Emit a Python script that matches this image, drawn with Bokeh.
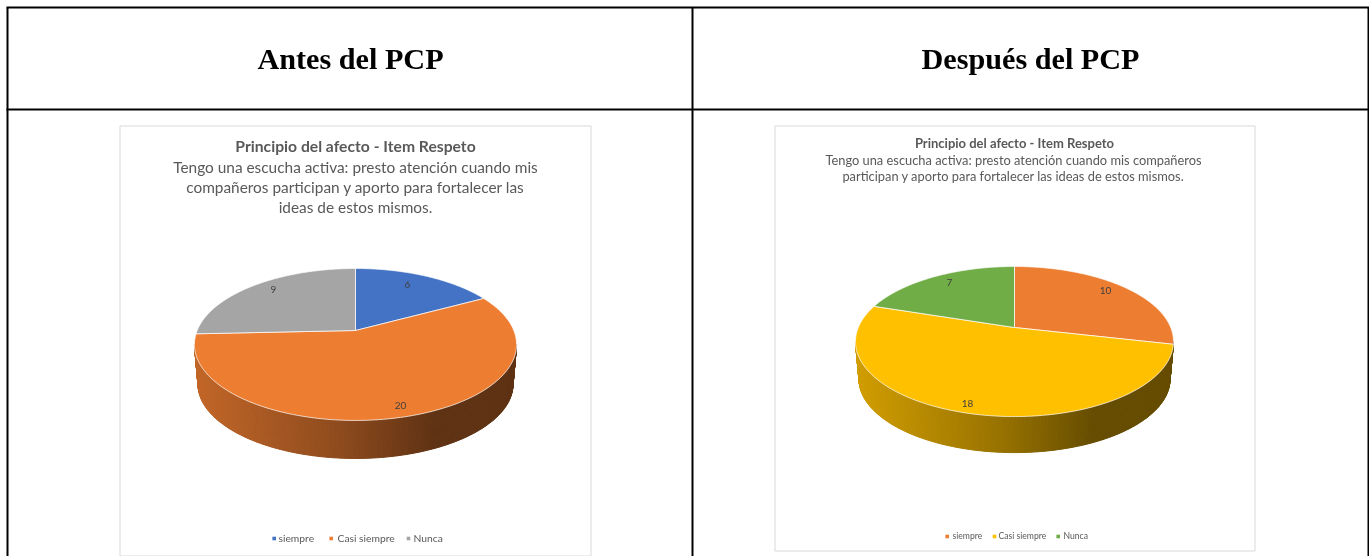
import numpy as np
from bokeh.plotting import figure
from bokeh.core.properties import value
from bokeh.embed import file_html
from bokeh.resources import INLINE

# ---- data ----
categories = ["siempre", "Casi siempre", "Nunca"]
antes_values = [6, 20, 9]
despues_values = [10, 18, 7]
antes_colors = ["#4472C4", "#ED7D31", "#A5A5A5"]
despues_colors = ["#ED7D31", "#FFC000", "#70AD47"]
column_titles = ["Antes del PCP", "Después del PCP"]
chart_title = "Principio del afecto - Item Respeto"
antes_subtitle = ["Tengo una escucha activa: presto atención cuando mis",
                  "compañeros participan y aporto para fortalecer las",
                  "ideas de estos mismos."]
despues_subtitle = ["Tengo una escucha activa: presto atención cuando mis compañeros",
                    "participan y aporto para fortalecer las ideas de estos mismos."]

# ---- layout (page pixels) ----
W, H = 1369, 556
SANS = value("Lato")
GREY = "#595959"
panels = [
    dict(values=antes_values, colors=antes_colors, cx=355, cy=330, r=158.3, a=73.4, b=0.184, depth=40,
         frame=(119.5, 125.5, 590.5, 555.5), title_y=145, title_size="15.7px", title_x=355,
         subtitle=antes_subtitle, sub_y=[166, 186, 206], sub_size="15.4px", sub_x=355,
         labels=[(407, 284), (400, 405), (273, 289)],
         legend_y=538, legend_ty=537, legend_sq=[273.7, 330.7, 408], legend_tx=[278, 337, 413], legend_size="10.3px"),
    dict(values=despues_values, colors=despues_colors, cx=1014, cy=327, r=156.2, a=72.4, b=0.187, depth=38,
         frame=(774.5, 125.5, 1254.5, 550.5), title_y=142, title_size="13px", title_x=1014,
         subtitle=despues_subtitle, sub_y=[159, 175], sub_size="12.85px", sub_x=1013,
         labels=[(1105, 290), (967, 403), (949, 282)],
         legend_y=536, legend_ty=535.5, legend_sq=[946.7, 994, 1057.7], legend_tx=[952, 998, 1063], legend_size="8.6px"),
]


def project(theta, cx, cy, r, a, b, drop=0.0, k=1.0):
    X, Y = np.sin(theta), -np.cos(theta)
    d = 1 - b * Y
    return cx + k * r * X / d, cy + drop + k * a * Y / d


def shade(hex_color, t):
    f = np.interp(t, [0, 0.45, 0.75, 1], [0.82, 0.60, 0.40, 0.40])
    c = [int(hex_color[i:i + 2], 16) for i in (1, 3, 5)]
    return "#%02x%02x%02x" % tuple(int(v * f) for v in c)


p = figure(width=W, height=H, x_range=(0, W), y_range=(H, 0), min_border=0,
           toolbar_location=None, output_backend="svg", outline_line_color=None,
           background_fill_color="white", border_fill_color="white",
           styles={"position": "fixed", "left": "0px", "top": "0px"})
p.axis.visible = False
p.grid.visible = False

# table rules
p.segment(x0=[6, 6, 692, 7, 1368], y0=[7, 109, 7, 7, 7], x1=[1369, 1369, 692, 7, 1368], y1=[7, 109, 556, 556, 556],
          line_color="black", line_width=2)
for txt, x in zip(column_titles, [350, 1030]):
    p.text([x], [58], text=[txt], text_font=value("Liberation Serif"), text_font_style="bold",
           text_font_size="30.2px", text_color="black", text_align="center", text_baseline="middle")

for c in panels:
    x0, y0, x1, y1 = c["frame"]
    p.quad(left=[x0], right=[x1], top=[y0], bottom=[y1], fill_color="white", line_color="#D9D9D9", line_width=1)

    p.text([c["title_x"]], [c["title_y"]], text=[chart_title], text_font=SANS, text_font_style="bold",
           text_font_size=c["title_size"], text_color=GREY, text_align="center", text_baseline="middle")
    for line, y in zip(c["subtitle"], c["sub_y"]):
        p.text([c["sub_x"]], [y], text=[line], text_font=SANS, text_font_size=c["sub_size"],
               text_color=GREY, text_align="center", text_baseline="middle")

    geo = dict(cx=c["cx"], cy=c["cy"], r=c["r"], a=c["a"], b=c["b"])
    vals = np.array(c["values"], dtype=float)
    edges = np.concatenate([[0], np.cumsum(vals)]) / vals.sum() * 2 * np.pi

    # side wall: thin strips between the two silhouette tangents, shaded by x position
    tangent = np.arccos(-c["b"])
    rim = np.linspace(tangent, 2 * np.pi - tangent, 221)
    tx, ty = project(rim, **geo)
    bx, by = project(rim, **geo, drop=c["depth"], k=0.978)
    xmin, xmax = tx.min(), tx.max()
    xs, ys, fills = [], [], []
    for i in range(len(rim) - 1):
        mid = (rim[i] + rim[i + 1]) / 2
        idx = int(np.searchsorted(edges, mid, side="right")) - 1
        t = ((tx[i] + tx[i + 1]) / 2 - xmin) / (xmax - xmin)
        xs.append([tx[i], tx[i + 1], bx[i + 1], bx[i]])
        ys.append([ty[i], ty[i + 1], by[i + 1], by[i]])
        fills.append(shade(c["colors"][idx], t))
    p.patches(xs, ys, fill_color=fills, line_color=fills, line_width=1)

    # top face slices
    for i, col in enumerate(c["colors"]):
        th = np.linspace(edges[i], edges[i + 1], 160)
        ex, ey = project(th, **geo)
        p.patch(np.r_[c["cx"], ex, c["cx"]], np.r_[c["cy"], ey, c["cy"]], fill_color=col,
                line_color="#FFFFFF", line_alpha=0.7, line_width=1)

    # data labels
    for v, (lx, ly) in zip(c["values"], c["labels"]):
        p.text([lx], [ly], text=[str(v)], text_font=SANS, text_font_size="10px", text_color="#404040",
               text_align="center", text_baseline="middle")

    # legend
    for name, col, sx, tx0 in zip(categories, c["colors"], c["legend_sq"], c["legend_tx"]):
        p.rect([sx], [c["legend_y"]], width=3.6, height=3.6, fill_color=col, line_color=None)
        p.text([tx0], [c["legend_ty"]], text=[name], text_font=SANS, text_font_size=c["legend_size"],
               text_color=GREY, text_align="left", text_baseline="middle")

open("out.html", "w").write(file_html(p, INLINE))
